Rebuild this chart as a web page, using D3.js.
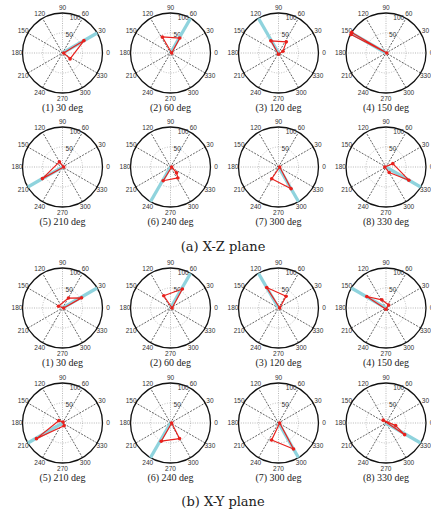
<!DOCTYPE html>
<html>
<head>
<meta charset="utf-8">
<script src="https://cdn.jsdelivr.net/npm/d3@7"></script>
<style>
  body { margin: 0; background: #fff; }
  svg { display: block; }
</style>
</head>
<body>
<div id="chart"></div>
<script>
// data: angle (deg), magnitude
const captions = ["(a) X-Z plane", "(b) X-Y plane"];
const targetAngles = [30, 60, 120, 150, 210, 240, 300, 330];
const angleTicks = [0, 30, 60, 90, 120, 150, 180, 210, 240, 270, 300, 330];
const radialTicks = [50, 100];
const rMax = 100;

const xzPoints = [
  [[0, 3], [30, 62], [322, 24]],
  [[0, 3], [117, 45], [58, 44]],
  [[270, 3], [122, 36], [55, 34], [21, 12]],
  [[0, 2], [149, 100], [152, 99]],
  [[0, 3], [121, 15], [210, 58]],
  [[0, 3], [242, 39], [304, 33], [316, 21]],
  [[0, 3], [300, 63], [240, 34]],
  [[180, 3], [26, 19], [330, 66], [300, 16]]
];
const xyPoints = [
  [[0, 3], [28, 54], [59, 29], [157, 11]],
  [[0, 4], [58, 56], [119, 35]],
  [[0, 3], [120, 59], [57, 35]],
  [[270, 3], [149, 56], [117, 23], [48, 10]],
  [[60, 3], [148, 11], [211, 76], [300, 8]],
  [[0, 3], [243, 51], [300, 45]],
  [[0, 3], [248, 46], [300, 75]],
  [[135, 10], [328, 55], [345, 25]]
];

const width = 431, height = 510, R = 40;
const colX = [62.5, 170.5, 278.5, 386];
const rowY = [53, 167, 308, 423];
const captionY = [251, 506];

const r = d3.scaleLinear().domain([0, rMax]).range([0, R]);
const toRad = a => (90 - a) * Math.PI / 180; // d3 radial: 0 at top, clockwise

const svg = d3.select("#chart").append("svg")
  .attr("width", width)
  .attr("height", height);

const polyLine = d3.lineRadial()
  .angle(d => toRad(d[0]))
  .radius(d => r(d[1]))
  .curve(d3.curveLinearClosed);

function drawPolar(g, target, pts, idx) {
  // inner dotted circles
  radialTicks.filter(t => t < rMax).forEach(t => {
    g.append("circle").attr("r", r(t))
      .attr("fill", "none").attr("stroke", "#999")
      .attr("stroke-width", 0.6).attr("stroke-dasharray", "1,1.5");
  });

  // spokes
  angleTicks.filter(a => a < 180).forEach(a => {
    const th = a * Math.PI / 180;
    const axial = a % 90 === 0;
    g.append("line")
      .attr("x1", -r(rMax) * Math.cos(th)).attr("y1", r(rMax) * Math.sin(th))
      .attr("x2", r(rMax) * Math.cos(th)).attr("y2", -r(rMax) * Math.sin(th))
      .attr("stroke", axial ? "#888" : "#222")
      .attr("stroke-width", axial ? 0.6 : 0.7)
      .attr("stroke-dasharray", axial ? "1,1.3" : "2,1.3");
  });

  g.append("circle").attr("r", r(rMax))
    .attr("fill", "none").attr("stroke", "#111").attr("stroke-width", 1.3);

  // angle labels
  g.selectAll(".alab").data(angleTicks).enter().append("text")
    .attr("x", a => (R + 5.5) * Math.cos(a * Math.PI / 180))
    .attr("y", a => -(R + 5.5) * Math.sin(a * Math.PI / 180))
    .attr("dy", "0.35em")
    .attr("text-anchor", "middle")
    .style("font-family", "Liberation Sans, Arial, sans-serif")
    .style("font-size", "6.5px")
    .style("fill", "#333")
    .text(a => a);

  // radial labels
  g.selectAll(".rlab").data(radialTicks).enter().append("text")
    .attr("x", t => (r(t) * 0.88 + 2) * Math.cos(70 * Math.PI / 180))
    .attr("y", t => -(r(t) * 0.88 + 2) * Math.sin(70 * Math.PI / 180))
    .attr("dy", "0.35em")
    .attr("text-anchor", "middle")
    .style("font-family", "Liberation Sans, Arial, sans-serif")
    .style("font-size", "6.5px")
    .style("fill", "#333")
    .text(t => t);

  // target direction
  g.append("path")
    .attr("d", d3.lineRadial().angle(d => toRad(d[0])).radius(d => r(d[1]))([[target, 0], [target, rMax]]))
    .attr("stroke", "#8fd3dd").attr("stroke-width", 3.2).attr("fill", "none");

  // measured pattern
  g.append("path")
    .attr("d", polyLine(pts))
    .attr("fill", "none").attr("stroke", "#e8211d").attr("stroke-width", 1.2)
    .attr("stroke-linejoin", "round");

  g.selectAll(".pt").data(pts).enter().append("circle")
    .attr("cx", d => r(d[1]) * Math.cos(d[0] * Math.PI / 180))
    .attr("cy", d => -r(d[1]) * Math.sin(d[0] * Math.PI / 180))
    .attr("r", 1.8)
    .attr("fill", "#e8211d");

  g.append("text")
    .attr("y", 58)
    .attr("text-anchor", "middle")
    .style("font-family", "Liberation Serif, Times New Roman, serif")
    .style("font-size", "10px")
    .style("fill", "#222")
    .text(`(${idx + 1}) ${target} deg`);
}

[xzPoints, xyPoints].forEach((set, p) => {
  set.forEach((pts, i) => {
    const g = svg.append("g")
      .attr("transform", `translate(${colX[i % 4]},${rowY[p * 2 + Math.floor(i / 4)]})`);
    drawPolar(g, targetAngles[i], pts, i);
  });
  svg.append("text")
    .attr("x", 223).attr("y", captionY[p])
    .attr("text-anchor", "middle")
    .style("font-family", "DejaVu Serif, serif")
    .style("font-size", "13px")
    .style("fill", "#222")
    .text(captions[p]);
});
</script>
</body>
</html>
